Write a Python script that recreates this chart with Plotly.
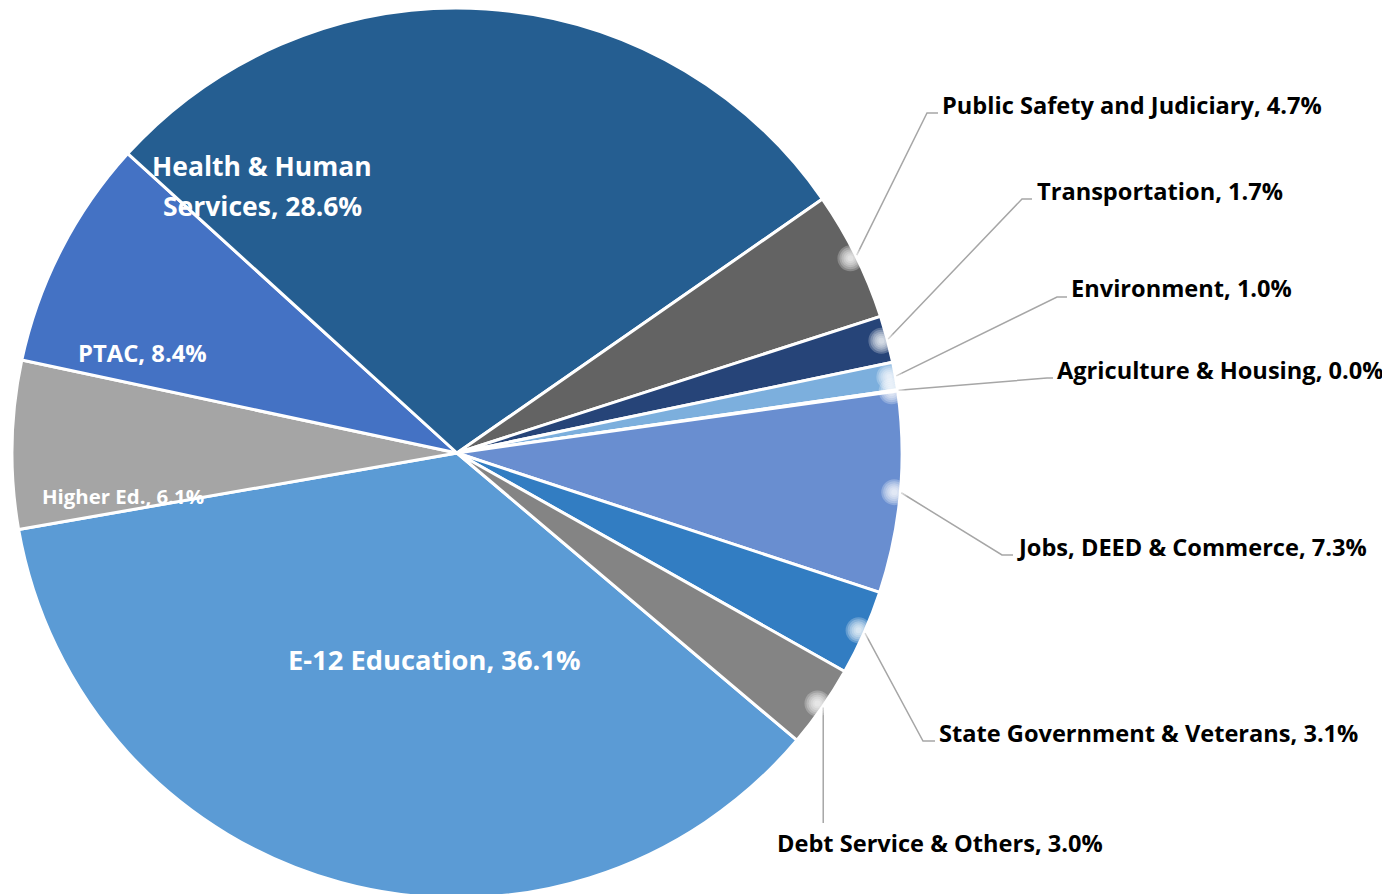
import math
import plotly.graph_objects as go

# ---------------- data ----------------
labels = ["E-12 Education", "Higher Ed.", "PTAC", "Health & Human Services",
          "Public Safety and Judiciary", "Transportation", "Environment",
          "Agriculture & Housing", "Jobs, DEED & Commerce",
          "State Government & Veterans", "Debt Service & Others"]
values = [36.1, 6.1, 8.4, 28.6, 4.7, 1.7, 1.0, 0.04, 7.3, 3.1, 3.0]
colors = ["#5B9BD5", "#A5A5A5", "#4472C4", "#255E91", "#636363", "#264478",
          "#7CAFDD", "#B4C7E7", "#698ED0", "#327DC2", "#848484"]

# ---------------- layout constants (window pixels) ----------------
W, H = 1390, 894
OFF = 8                      # page body margin
CX, CY, R = 457, 453, 445
ROTATION = 130.2
FONT = "Open Sans"
LINE_COLOR = "#A6A6A6"

# outside labels: index -> (elbow x, elbow y, end of horizontal, text x, text y, xanchor)
outside = {
    4: (927, 113, 938, 940, 105, "left"),
    5: (1022, 199, 1032, 1035, 191, "left"),
    6: (1057, 297, 1067, 1069, 288, "left"),
    7: (1047, 378, 1053, 1055, 370, "left"),
    8: (1002, 555, 1013, 1015, 547, "left"),
    9: (923, 741, 935, 937, 733, "left"),
    10: (None, 823, None, 940, 843, "center"),
}
OUT_SIZE = 23.6
# inside labels: index -> (center x, first line center y, line gap, size, words on first line)
inside = {
    0: (434, 659, 0, 27.3, None),
    1: (123, 496, 0, 20.4, None),
    2: (142, 353, 0, 23.8, None),
    3: (262, 166, 39.5, 26.5, 3),
}


def px(x):
    return (x - OFF) / W


def py(y):
    return 1 - (y - OFF) / H


total = sum(values)
texts = [f"{lab}, {v / total * 100:.1f}%" for lab, v in zip(labels, values)]

fig = go.Figure()
fig.add_trace(go.Pie(
    labels=labels, values=values, sort=False, direction="clockwise",
    rotation=ROTATION, textinfo="none", hoverinfo="label+percent",
    marker=dict(colors=colors, line=dict(color="white", width=3)),
    domain=dict(x=[px(CX - R), px(CX + R)], y=[py(CY + R), py(CY - R)]),
    showlegend=False,
))

shapes = []
annotations = []

cum = 0.0
mids = []
for v in values:
    mids.append(ROTATION + 360 * (cum + v / 2) / total)
    cum += v

for i, (ex, ey, hx, tx, ty, anchor) in outside.items():
    a = math.radians(mids[i])
    sx, sy = CX + (R + 1) * math.sin(a), CY - (R + 1) * math.cos(a)
    if ex is None:
        ex = sx
    pts = [(sx, sy), (ex, ey)]
    if hx is not None:
        pts.append((hx, ey))
    path = "M " + " L ".join(f"{px(x):.5f},{py(y):.5f}" for x, y in pts)
    shapes.append(dict(type="path", xref="paper", yref="paper", path=path,
                       line=dict(color=LINE_COLOR, width=1.5), layer="above"))
    # soft white glow at slice edge
    gx, gy = CX + (R - 6) * math.sin(a), CY - (R - 6) * math.cos(a)
    for rr in (13, 11, 9, 7, 5, 3):
        shapes.append(dict(type="circle", xref="paper", yref="paper",
                           x0=px(gx - rr), x1=px(gx + rr), y0=py(gy + rr), y1=py(gy - rr),
                           fillcolor="white", opacity=0.24, line=dict(width=0),
                           layer="above"))
    annotations.append(dict(text=texts[i], x=px(tx), y=py(ty), xref="paper", yref="paper",
                            xanchor=anchor, yanchor="middle", showarrow=False,
                            font=dict(family=FONT, size=OUT_SIZE, color="black", weight="bold")))

for i, (tx, ty, gap, size, nfirst) in inside.items():
    if nfirst:
        words = texts[i].split(" ")
        lines = [" ".join(words[:nfirst]), " ".join(words[nfirst:])]
    else:
        lines = [texts[i]]
    for k, line in enumerate(lines):
        annotations.append(dict(text=line, x=px(tx), y=py(ty + k * gap), xref="paper", yref="paper",
                                xanchor="center", yanchor="middle", showarrow=False,
                                font=dict(family=FONT, size=size, color="white", weight="bold")))

fig.update_layout(
    width=W, height=H, margin=dict(l=0, r=0, t=0, b=0),
    paper_bgcolor="white", plot_bgcolor="white",
    shapes=shapes, annotations=annotations,
)

fig.write_html("out.html")
